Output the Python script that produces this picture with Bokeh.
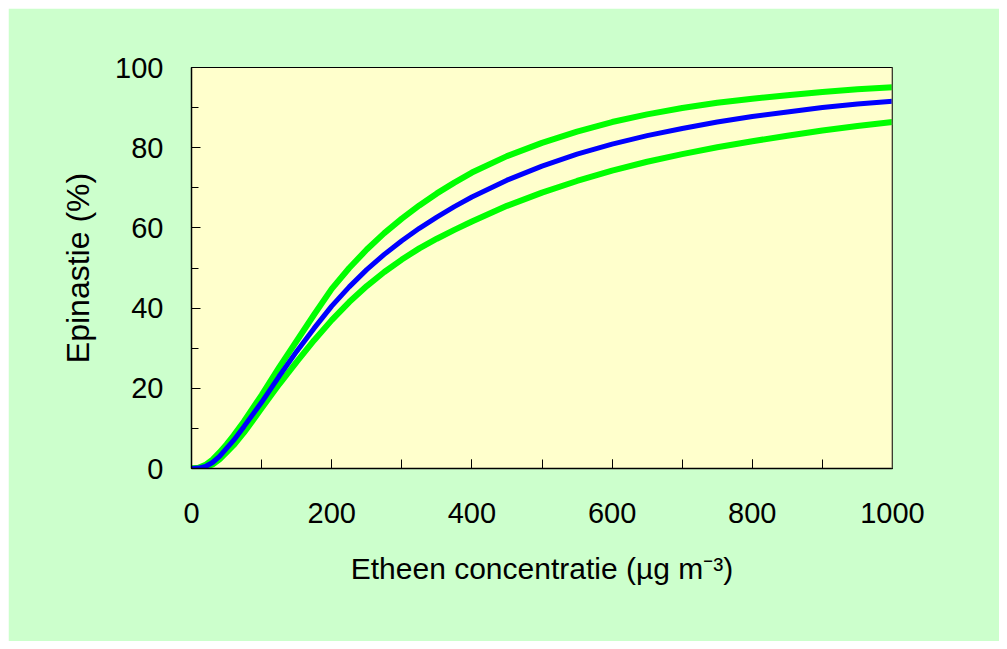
from bokeh.plotting import figure
from bokeh.models import FixedTicker, Span
from bokeh.embed import file_html
from bokeh.resources import INLINE

# Data
conc = [0, 10, 20, 30, 40, 50, 60, 75, 100, 125, 150, 175, 200, 225, 250, 275, 300, 325, 350, 375,
        400, 450, 500, 550, 600, 650, 700, 750, 800, 850, 900, 950, 1000]
upper = [0, 0.2, 0.9, 2.2, 4.0, 6.0, 8.2, 11.8, 18.3, 25.2, 31.8, 38.4, 44.8, 50.0, 54.6, 58.7, 62.3, 65.6, 68.6, 71.3,
         73.8, 77.9, 81.2, 84.0, 86.4, 88.3, 89.9, 91.2, 92.2, 93.1, 93.9, 94.6, 95.1]
mean = [0, 0.1, 0.5, 1.5, 3.0, 5.0, 7.0, 10.5, 16.5, 23.0, 29.2, 35.0, 40.5, 45.3, 49.6, 53.4, 56.8, 59.9, 62.7, 65.3,
        67.7, 71.9, 75.4, 78.4, 80.9, 83.0, 84.8, 86.4, 87.8, 88.9, 90.0, 90.9, 91.6]
lower = [0, 0.05, 0.3, 1.0, 2.3, 4.0, 5.8, 9.0, 15.0, 21.0, 26.6, 32.0, 37.0, 41.5, 45.5, 49.0, 52.1, 54.9, 57.3, 59.5,
         61.6, 65.5, 68.8, 71.7, 74.3, 76.5, 78.4, 80.1, 81.6, 83.0, 84.3, 85.4, 86.4]

x_ticks = [0, 200, 400, 600, 800, 1000]
y_ticks = [0, 20, 40, 60, 80, 100]

FONT = "Liberation Sans"

p = figure(width=991, height=633, output_backend="svg", toolbar_location=None,
           x_range=(0, 1000), y_range=(0, 100),
           min_border_left=183, min_border_right=107, min_border_top=59, min_border_bottom=173)
p.margin = (8, 8, 8, 8)

p.border_fill_color = "#CCFFCC"
p.background_fill_color = "#FFFFCC"
p.outline_line_color = "black"
p.outline_line_width = 1
p.xgrid.visible = False
p.ygrid.visible = False

p.line(conc, upper, line_color="#00FF00", line_width=6)
p.line(conc, lower, line_color="#00FF00", line_width=6)
p.line(conc, mean, line_color="#0000FF", line_width=5)

p.add_layout(Span(location=1000, dimension="height", line_color="#7a7a62", line_width=2))

for ax in (p.xaxis[0], p.yaxis[0]):
    ax.axis_line_color = "black"
    ax.axis_line_width = 1.5
    ax.major_tick_line_color = "black"
    ax.minor_tick_line_color = "black"
    ax.major_tick_out = 0
    ax.minor_tick_out = 0
    ax.major_label_text_font = FONT
    ax.major_label_text_font_size = "29px"
    ax.major_label_text_color = "black"
    ax.axis_label_text_font = FONT
    ax.axis_label_text_font_style = "normal"
    ax.axis_label_text_color = "black"

p.xaxis.axis_label_text_font_size = "30px"
p.yaxis.axis_label_text_font_size = "32px"

p.xaxis.ticker = FixedTicker(ticks=x_ticks, minor_ticks=list(range(0, 1001, 100)))
p.yaxis.ticker = FixedTicker(ticks=y_ticks, minor_ticks=list(range(0, 101, 10)))
p.xaxis.major_tick_in = 9
p.xaxis.minor_tick_in = 9
p.yaxis.major_tick_in = 9
p.yaxis.minor_tick_in = 7

p.xaxis.major_label_standoff = 34
p.yaxis.major_label_standoff = 28
p.xaxis.axis_label = "Etheen concentratie (µg m⁻³)"
p.yaxis.axis_label = "Epinastie (%)"
p.xaxis.axis_label_standoff = 26
p.yaxis.axis_label_standoff = 16

open("out.html", "w").write(file_html(p, INLINE))
